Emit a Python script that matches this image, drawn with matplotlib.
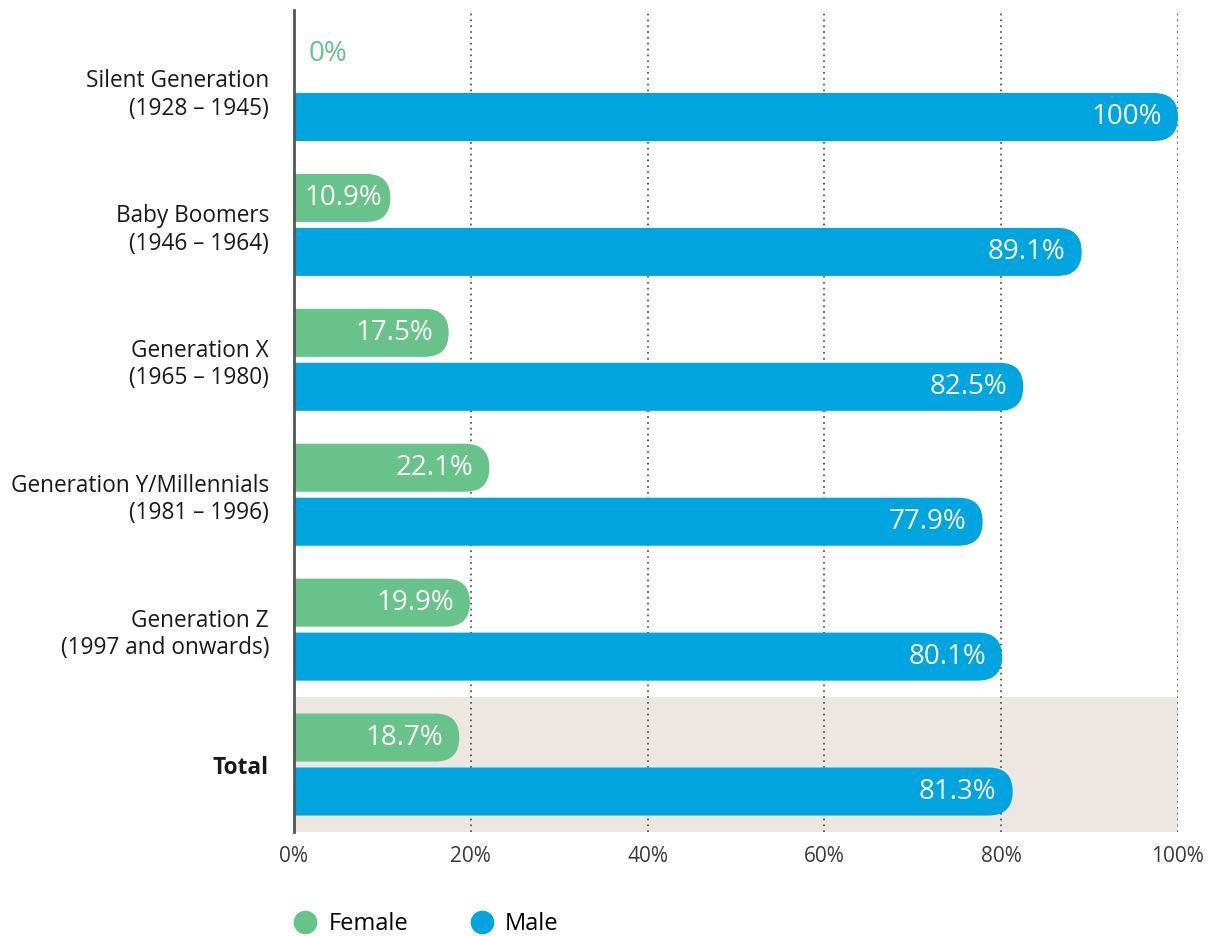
import matplotlib
matplotlib.use("Agg")
import matplotlib.pyplot as plt
from matplotlib.patches import FancyBboxPatch
from matplotlib.lines import Line2D
from matplotlib.transforms import ScaledTranslation
import numpy as np

plt.rcParams['font.family'] = ['Open Sans', 'DejaVu Sans']

categories = ["Silent Generation\n(1928 – 1945)",
              "Baby Boomers\n(1946 – 1964)",
              "Generation X\n(1965 – 1980)",
              "Generation Y/Millennials\n(1981 – 1996)",
              "Generation Z\n(1997 and onwards)",
              "Total"]
female = [0, 10.9, 17.5, 22.1, 19.9, 18.7]
male = [100, 89.1, 82.5, 77.9, 80.1, 81.3]
female_labels = ["0%", "10.9%", "17.5%", "22.1%", "19.9%", "18.7%"]
male_labels = ["100%", "89.1%", "82.5%", "77.9%", "80.1%", "81.3%"]
xticks = [0, 20, 40, 60, 80, 100]

GREEN = "#68C38A"
BLUE = "#00A5DF"
BAND = "#ECE7E1"

W, H = 1215, 936
fig = plt.figure(figsize=(W / 100, H / 100), dpi=100)
ax_l, ax_r, ax_t, ax_b = 294, 1178, 10, 832
ax = fig.add_axes([ax_l / W, 1 - ax_b / H, (ax_r - ax_l) / W, (ax_b - ax_t) / H])

y = np.arange(len(categories))
off = 0.2
bh = 0.356
ymin, ymax = -0.593, 5.5
ax.set_xlim(0, 100)
ax.set_ylim(ymax, ymin)

# rounding in data units
xpp = 100 / (ax_r - ax_l)
ypp = (ymax - ymin) / (ax_b - ax_t)
asp = ypp / xpp
r = bh / 2 / asp

ax.axhspan(4.5, 5.5, xmin=0, xmax=1, color=BAND, zorder=0, lw=0)
for t in xticks[1:]:
    ax.axvline(t, color="#444444", lw=1.2, ls=(0, (1, 2.5)), zorder=1)


def rounded_bars(vals, ys, color):
    bars = ax.barh(ys, vals, height=bh, color=color)
    for b in bars:
        x0, y0, w, h = b.get_x(), b.get_y(), b.get_width(), b.get_height()
        b.remove()
        if w <= 0:
            continue
        p = FancyBboxPatch((x0 - r, y0), w + r, h,
                           boxstyle=f"round,pad=0,rounding_size={r}",
                           mutation_aspect=asp, fc=color, ec="none", zorder=2)
        ax.add_patch(p)


rounded_bars(female, y - off, GREEN)
rounded_bars(male, y + off, BLUE)

vfs = 20
for i in range(len(categories)):
    fpad = (8 if female[i] < 12 else 16) * xpp
    if female[i] > 0:
        ax.text(female[i] - fpad, y[i] - off, female_labels[i], ha="right", va="center",
                color="white", fontsize=vfs, zorder=3)
    else:
        ax.text(15 * xpp, y[i] - off - 0.07, female_labels[i], ha="left", va="center",
                color=GREEN, fontsize=vfs, zorder=3)
    ax.text(male[i] - 16 * xpp, y[i] + off, male_labels[i], ha="right", va="center",
            color="white", fontsize=vfs, zorder=3)

ax.set_yticks(y)
ax.set_yticklabels(categories, fontsize=16.3, color="#1a1a1a", linespacing=1.2)
for lab in ax.get_yticklabels():
    if "\n" in lab.get_text():
        lab.set_transform(lab.get_transform() + ScaledTranslation(0, 6 / 100, fig.dpi_scale_trans))
ax.get_yticklabels()[-1].set_fontweight("bold")
ax.set_xticks(xticks)
ax.set_xticklabels([f"{t}%" for t in xticks], fontsize=15, color="#3a3a3a")
ax.tick_params(axis="y", length=0, pad=18)
ax.tick_params(axis="x", length=0, pad=10)

for s in ["top", "right", "bottom"]:
    ax.spines[s].set_visible(False)
ax.spines["left"].set_color("#555555")
ax.spines["left"].set_linewidth(2)
ax.spines["left"].set_zorder(4)

handles = [Line2D([], [], marker="o", ls="", ms=16, color=GREEN, label="Female"),
           Line2D([], [], marker="o", ls="", ms=16, color=BLUE, label="Male")]
fig.legend(handles=handles, loc="center left", bbox_to_anchor=(279 / W, 1 - 924 / H),
           ncol=2, frameon=False, fontsize=17, handletextpad=0.5, columnspacing=2.6,
           handlelength=1.0, borderaxespad=0.2)

fig.savefig("out.png", dpi=100)
